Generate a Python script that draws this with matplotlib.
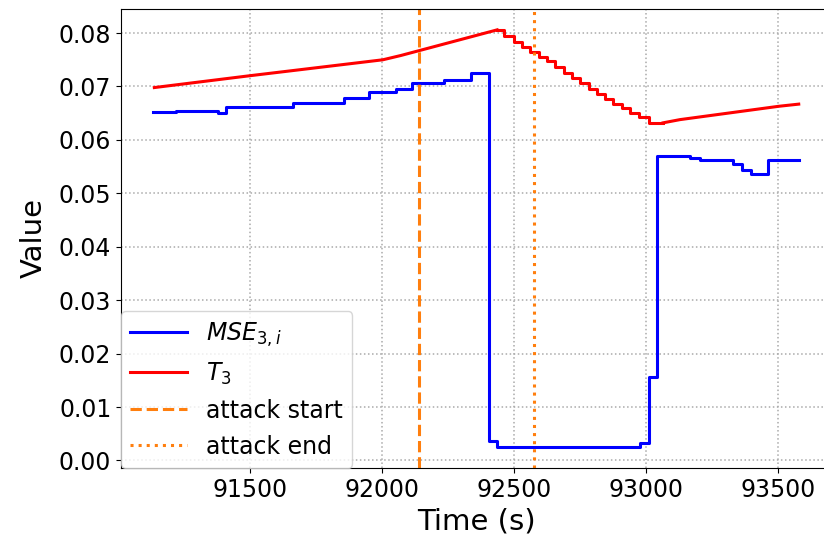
import matplotlib
matplotlib.use("Agg")
import matplotlib.pyplot as plt

# MSE of model 3 (step signal)
blue_t = [91133, 91220, 91378, 91409, 91661, 91855, 91950, 92052, 92115, 92235,
          92336, 92405, 92436, 92468, 92978, 93010, 93041, 93167, 93205, 93331,
          93363, 93400, 93463, 93579]
blue_v = [0.0652, 0.0655, 0.0650, 0.0661, 0.0670, 0.0679, 0.0690, 0.0695, 0.0707, 0.0712,
          0.0725, 0.0037, 0.0026, 0.0025, 0.0032, 0.0156, 0.0569, 0.0566, 0.0563, 0.0555,
          0.0544, 0.0537, 0.0562, 0.0562]

# threshold T3: rising part, staircase down, rising tail
red_rise_t = [91137, 91496, 92003, 92071, 92436]
red_rise_v = [0.0698, 0.0720, 0.0750, 0.0758, 0.0806]
red_fall_t = [92436, 92461, 92499, 92531, 92562, 92594, 92626, 92657, 92688, 92720,
              92751, 92783, 92815, 92846, 92877, 92909, 92940, 92972, 93010, 93065]
red_fall_v = [0.0806, 0.0795, 0.0784, 0.0774, 0.0765, 0.0756, 0.0747, 0.0736, 0.0726, 0.0716,
              0.0706, 0.0695, 0.0686, 0.0676, 0.0667, 0.0660, 0.0650, 0.0642, 0.0632, 0.0632]
red_tail_t = [93065, 93129, 93504, 93579]
red_tail_v = [0.0632, 0.0638, 0.0663, 0.0667]

attack_start = 92139
attack_end = 92574

fig = plt.figure(figsize=(8.24, 5.46), dpi=100)
ax = fig.add_axes([121 / 824, 78 / 546, 710 / 824, 459 / 546])

ax.plot(blue_t, blue_v, color="blue", lw=2.2, drawstyle="steps-post", label=r"$MSE_{3,i}$")
ax.plot(red_rise_t, red_rise_v, color="red", lw=2.2, label=r"$T_3$")
ax.plot(red_fall_t, red_fall_v, color="red", lw=2.2, drawstyle="steps-post")
ax.plot(red_tail_t, red_tail_v, color="red", lw=2.2)
ax.axvline(attack_start, color="tab:orange", ls="--", lw=2.2, label="attack start")
ax.axvline(attack_end, color="tab:orange", ls=":", lw=2.2, label="attack end")

ax.set_xticks([91500, 92000, 92500, 93000, 93500])
ax.grid(True, linestyle=":", linewidth=1.1, color="#aaaaaa")
ax.tick_params(labelsize=17)
ax.set_xlabel("Time (s)", fontsize=21)
ax.set_ylabel("Value", fontsize=21, labelpad=8)
ax.legend(loc="lower left", fontsize=17, borderaxespad=0, handlelength=2.4)

fig.savefig("out.png", dpi=100)
